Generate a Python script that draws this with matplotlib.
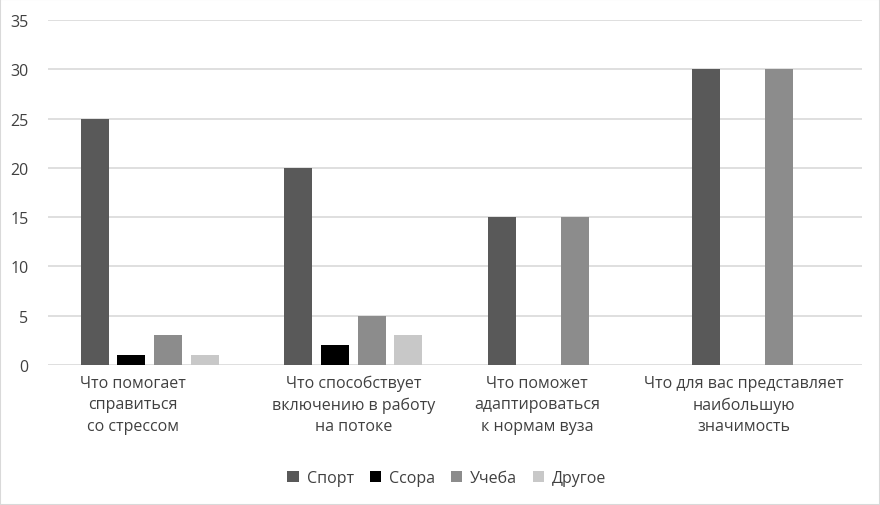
import numpy as np
import matplotlib.pyplot as plt
import matplotlib.transforms as mtransforms
from matplotlib.patches import Rectangle

plt.rcParams['font.family'] = ['Open Sans', 'DejaVu Sans']

categories = ["Что помогает\nсправиться\nсо стрессом",
              "Что способствует\nвключению в работу\nна потоке",
              "Что поможет\nадаптироваться\nк нормам вуза",
              "Что для вас представляет\nнаибольшую\nзначимость"]
series = ["Спорт", "Ссора", "Учеба", "Другое"]
values = [
    [25, 20, 15, 30],   # Спорт
    [1, 2, 0, 0],       # Ссора
    [3, 5, 15, 30],     # Учеба
    [1, 3, 0, 0],       # Другое
]
colors = ["#595959", "#000000", "#8c8c8c", "#c8c8c8"]

fig = plt.figure(figsize=(8.8, 5.06), dpi=100)
ax = fig.add_axes([0.0545, 0.2767, 0.9255, 0.6818])

x = np.arange(len(categories))
step = 0.18
width = 0.138
for i, (name, vals) in enumerate(zip(series, values)):
    ax.bar(x + (i - 1.5) * step, vals, width, color=colors[i], label=name, zorder=3)

ax.set_xlim(-0.5, len(categories) - 0.5)
ax.set_ylim(0, 35)
ax.set_yticks(range(0, 36, 5))
ax.grid(axis='y', color='#d9d9d9', linewidth=1.2, zorder=0)
for s in ax.spines.values():
    s.set_visible(False)
ax.tick_params(length=0, colors='#404040', labelsize=11.5)
ax.tick_params(axis='y', pad=14)
ax.set_xticks(x)
ax.set_xticklabels(categories, linespacing=1.45, fontsize=11.5)
ax.tick_params(axis='x', pad=7)

# label wrapping in the original leaves most labels slightly left of centre
shifts = [-17, 0, -20, -17]
for lbl, dx in zip(ax.get_xticklabels(), shifts):
    lbl.set_transform(lbl.get_transform() +
                      mtransforms.ScaledTranslation(dx / 100, 0, fig.dpi_scale_trans))

ax.legend(loc='upper center', bbox_to_anchor=(0.49, -0.262), ncol=4, frameon=False,
          handlelength=0.7, handleheight=0.7, handletextpad=0.5, columnspacing=1.0,
          fontsize=11.5, labelcolor='#404040')

fig.patches.append(Rectangle((0, 0), 1, 1, transform=fig.transFigure, fill=False,
                             edgecolor='#d9d9d9', linewidth=1.5))

fig.savefig("out.png", dpi=100)
